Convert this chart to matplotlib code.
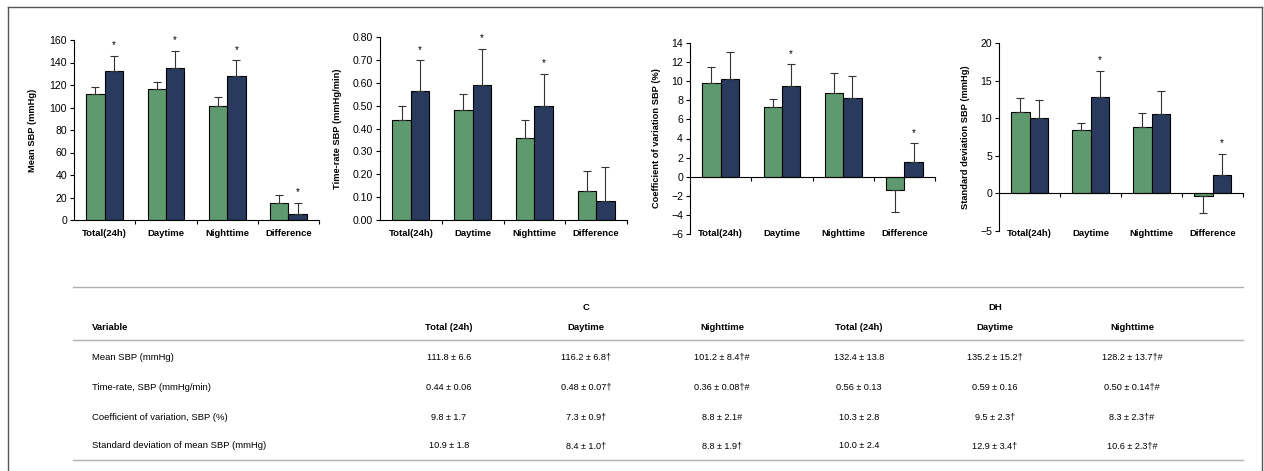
import numpy as np
import matplotlib
matplotlib.use("Agg")
import matplotlib.pyplot as plt
from matplotlib.lines import Line2D
from matplotlib import transforms

plt.rcParams['font.family'] = ['Liberation Sans', 'DejaVu Sans']

# ---- data ----
categories = ['Total(24h)', 'Daytime', 'Nighttime', 'Difference']

mean_c = [111.8, 116.2, 101.2, 15.0]
mean_c_err = [6.6, 6.8, 8.4, 7.0]
mean_dh = [132.4, 135.2, 128.2, 5.0]
mean_dh_err = [13.8, 15.2, 13.7, 10.0]
mean_star = [True, True, True, True]

rate_c = [0.44, 0.48, 0.36, 0.125]
rate_c_err = [0.06, 0.07, 0.08, 0.09]
rate_dh = [0.565, 0.59, 0.50, 0.085]
rate_dh_err = [0.135, 0.16, 0.14, 0.145]
rate_star = [True, True, True, False]

cv_c = [9.8, 7.3, 8.8, -1.45]
cv_c_err = [1.7, 0.9, 2.1, 2.3]
cv_dh = [10.3, 9.5, 8.3, 1.5]
cv_dh_err = [2.8, 2.3, 2.3, 2.0]
cv_star = [False, True, False, True]

sd_c = [10.9, 8.4, 8.8, -0.3]
sd_c_err = [1.8, 1.0, 1.9, 2.3]
sd_dh = [10.0, 12.9, 10.6, 2.5]
sd_dh_err = [2.4, 3.4, 3.1, 2.8]
sd_star = [False, True, False, True]

ylabels = ['Mean SBP (mmHg)', 'Time-rate SBP (mmHg/min)',
           'Coefficient of variation SBP (%)', 'Standard deviation SBP (mmHg)']

table_cols = ['Total (24h)', 'Daytime', 'Nighttime', 'Total (24h)', 'Daytime', 'Nighttime']
table_vars = ['Mean SBP (mmHg)', 'Time-rate, SBP (mmHg/min)',
              'Coefficient of variation, SBP (%)', 'Standard deviation of mean SBP (mmHg)']
table_vals = [
    ['111.8 ± 6.6', '116.2 ± 6.8†', '101.2 ± 8.4†#', '132.4 ± 13.8', '135.2 ± 15.2†', '128.2 ± 13.7†#'],
    ['0.44 ± 0.06', '0.48 ± 0.07†', '0.36 ± 0.08†#', '0.56 ± 0.13', '0.59 ± 0.16', '0.50 ± 0.14†#'],
    ['9.8 ± 1.7', '7.3 ± 0.9†', '8.8 ± 2.1#', '10.3 ± 2.8', '9.5 ± 2.3†', '8.3 ± 2.3†#'],
    ['10.9 ± 1.8', '8.4 ± 1.0†', '8.8 ± 1.9†', '10.0 ± 2.4', '12.9 ± 3.4†', '10.6 ± 2.3†#'],
]

green = '#5f9a6f'
navy = '#283b5f'
W, H = 1264, 471

fig = plt.figure(figsize=(W / 100, H / 100), dpi=100)


def px_axes(x0, ytop, x1, ybot):
    return fig.add_axes([x0 / W, 1 - ybot / H, (x1 - x0) / W, (ybot - ytop) / H])


def one_sided(vals, errs):
    lo = [e if v < 0 else 0 for v, e in zip(vals, errs)]
    hi = [0 if v < 0 else e for v, e in zip(vals, errs)]
    return [lo, hi]


def draw_chart(ax, c, ce, dh, dhe, stars, ylim, yticks, fmt, ylabel, ylabel_x):
    x = np.arange(len(categories))
    w = 0.3
    ax.bar(x - w / 2, c, w, color=green, edgecolor='black', linewidth=0.8, zorder=2)
    ax.bar(x + w / 2, dh, w, color=navy, edgecolor='black', linewidth=0.8, zorder=2)
    ax.errorbar(x - w / 2, c, yerr=one_sided(c, ce), fmt='none', ecolor='#333333',
                elinewidth=0.8, capsize=2.8, capthick=0.8, zorder=3)
    ax.errorbar(x + w / 2, dh, yerr=one_sided(dh, dhe), fmt='none', ecolor='#333333',
                elinewidth=0.8, capsize=2.8, capthick=0.8, zorder=3)
    for xi, v, e, s in zip(x, dh, dhe, stars):
        if s:
            ax.annotate('*', (xi + w / 2, v + e), xytext=(0, 4), textcoords='offset points',
                        ha='center', va='bottom', fontsize=7)
    ax.set_xlim(-0.5, 3.5)
    ax.set_ylim(*ylim)
    ax.set_yticks(yticks)
    ax.set_yticklabels([fmt.format(t).replace('-', '\u2212') for t in yticks], fontsize=7.6)
    ax.set_xticks([0.5, 1.5, 2.5, 3.5])
    ax.set_xticklabels([])
    ax.tick_params(axis='both', direction='out', length=3, width=0.8, pad=2)
    ax.spines['top'].set_visible(False)
    ax.spines['right'].set_visible(False)
    ax.spines['bottom'].set_position(('data', 0))
    ax.set_ylabel(ylabel, fontsize=6.7, fontweight='bold')
    ax.yaxis.set_label_coords(ylabel_x, 0.5)
    trans = transforms.blended_transform_factory(ax.transData, fig.transFigure)
    for xi, lab in zip(x, categories):
        ax.text(xi, 1 - 234 / H, lab, transform=trans, ha='center', va='center',
                fontsize=6.8, fontweight='bold')


ax1 = px_axes(74, 40, 319, 220)
draw_chart(ax1, mean_c, mean_c_err, mean_dh, mean_dh_err, mean_star,
           (0, 160), np.arange(0, 161, 20), '{:.0f}', ylabels[0], (37 - 74) / 245)

ax2 = px_axes(380, 37.3, 627, 220)
draw_chart(ax2, rate_c, rate_c_err, rate_dh, rate_dh_err, rate_star,
           (0, 0.8), np.round(np.arange(0, 0.81, 0.1), 2), '{:.2f}', ylabels[1], (342 - 380) / 247)

ax3 = px_axes(690, 43.3, 935, 233.7)
draw_chart(ax3, cv_c, cv_c_err, cv_dh, cv_dh_err, cv_star,
           (-6, 14), np.arange(-6, 15, 2), '{:.0f}', ylabels[2], (661 - 690) / 245)

ax4 = px_axes(999, 43.3, 1243, 231)
draw_chart(ax4, sd_c, sd_c_err, sd_dh, sd_dh_err, sd_star,
           (-5, 20), np.arange(-5, 21, 5), '{:.0f}', ylabels[3], (970 - 999) / 244)

# ---- table ----
def fy(y):
    return 1 - y / H


def fx(x):
    return x / W


for yl in [287, 340, 460]:
    fig.add_artist(Line2D([fx(73), fx(1243)], [fy(yl), fy(yl)], color='#b0b0b0', lw=1))

col_x = [449, 586, 722, 859, 995, 1132]
fig.text(fx(586), fy(308), 'C', ha='center', va='center', fontsize=6.8, fontweight='bold')
fig.text(fx(995), fy(308), 'DH', ha='center', va='center', fontsize=6.8, fontweight='bold')
fig.text(fx(92), fy(328), 'Variable', ha='left', va='center', fontsize=6.8, fontweight='bold')
for cx, lab in zip(col_x, table_cols):
    fig.text(fx(cx), fy(328), lab, ha='center', va='center', fontsize=6.8, fontweight='bold')

row_y = [357, 387, 417, 446]
for ry, var, vals in zip(row_y, table_vars, table_vals):
    fig.text(fx(92), fy(ry), var, ha='left', va='center', fontsize=6.8)
    for cx, v in zip(col_x, vals):
        fig.text(fx(cx), fy(ry), v, ha='center', va='center', fontsize=6.6)

# outer frame
for xs, ys in [([8, 8], [7, H]), ([8, 1262], [7, 7]), ([1262, 1262], [7, H])]:
    fig.add_artist(Line2D([fx(v) for v in xs], [fy(v) for v in ys], color='#555555', lw=1))

fig.savefig('out.png', dpi=100)
